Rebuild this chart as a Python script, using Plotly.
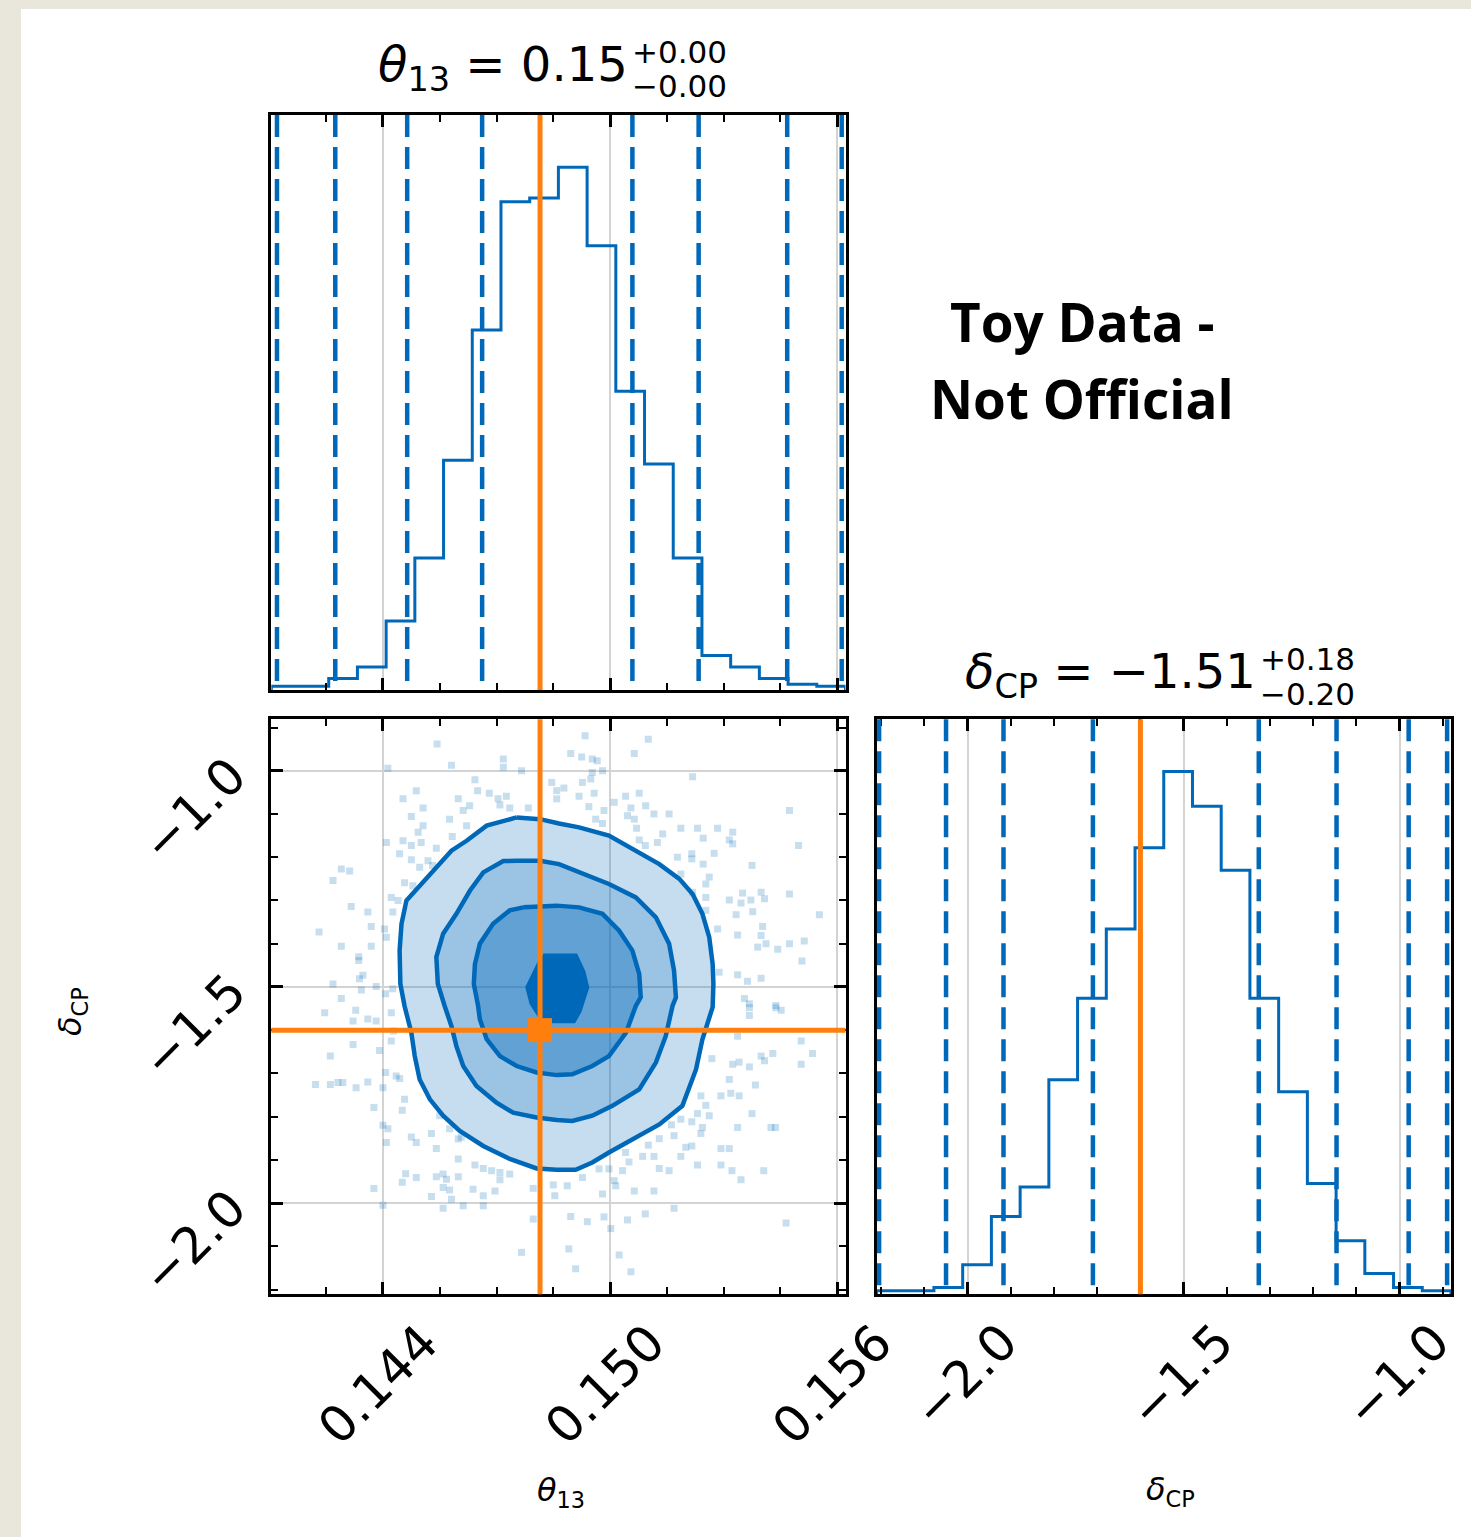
import plotly.graph_objects as go
import numpy as np

W, H = 1471, 1537
FONT = "DejaVu Sans"
BLUE = "#0068b8"
ORANGE = "#ff7f0e"

# ---------------- data ----------------
theta_range = [0.14105, 0.15622]
dcp_range = [-2.211, -0.881]

# 20-bin step histograms (counts)
theta_counts = [2, 2, 6, 12, 36, 69, 120, 188, 255, 257, 273, 232, 156, 118, 69, 18, 12, 6, 3, 2]
dcp_counts = [2, 2, 4, 17, 45, 62, 124, 171, 211, 258, 302, 282, 245, 171, 117, 64, 31, 12, 4, 2]

# dashed quantile lines
theta_quantiles = [0.14120, 0.14274, 0.14464, 0.14662, 0.15059, 0.15234, 0.15468, 0.15612]
dcp_quantiles = [-2.205, -2.050, -1.917, -1.710, -1.326, -1.146, -0.979, -0.890]

theta_truth = 0.14815
dcp_truth = -1.600

# tick settings
theta_tick0, theta_major, theta_minor = 0.144, 0.006, 0.0015
dcp_tick0, dcp_major, dcp_minor = -2.0, 0.5, 0.1

# contour levels (outer -> inner)
c1_theta = [0.14753, 0.14815, 0.14865, 0.14918, 0.14997, 0.15068, 0.15130, 0.15183, 0.15218, 0.15244,
            0.15262, 0.15271, 0.15273, 0.15271, 0.15244, 0.15227, 0.15191, 0.15130, 0.15042, 0.14997,
            0.14953, 0.14909, 0.14859, 0.14806, 0.14735, 0.14665, 0.14603, 0.14559, 0.14524, 0.14497,
            0.14484, 0.14475, 0.14457, 0.14446, 0.14444, 0.14449, 0.14462, 0.14502, 0.14541, 0.14581,
            0.14621, 0.14674]
c1_dcp = [-1.108, -1.112, -1.122, -1.131, -1.150, -1.185, -1.216, -1.250, -1.285, -1.331,
          -1.385, -1.447, -1.493, -1.547, -1.621, -1.691, -1.775, -1.818, -1.860, -1.883,
          -1.906, -1.923, -1.923, -1.920, -1.898, -1.868, -1.833, -1.798, -1.760, -1.714,
          -1.660, -1.606, -1.544, -1.493, -1.416, -1.354, -1.300, -1.262, -1.223, -1.185,
          -1.162, -1.127]
c2_theta = [0.14753, 0.14815, 0.14865, 0.14953, 0.14997, 0.15068, 0.15121, 0.15156, 0.15169, 0.15174,
            0.15165, 0.15147, 0.15121, 0.15077, 0.15006, 0.14953, 0.14900, 0.14859, 0.14806, 0.14744,
            0.14700, 0.14647, 0.14612, 0.14594, 0.14581, 0.14563, 0.14545, 0.14541, 0.14559, 0.14594,
            0.14630, 0.14665, 0.14718]
c2_dcp = [-1.208, -1.208, -1.216, -1.246, -1.262, -1.293, -1.339, -1.400, -1.462, -1.524,
          -1.544, -1.614, -1.675, -1.737, -1.775, -1.798, -1.810, -1.808, -1.802, -1.791,
          -1.768, -1.729, -1.683, -1.637, -1.591, -1.544, -1.493, -1.431, -1.377, -1.331,
          -1.277, -1.235, -1.209]
c3_theta = [0.14771, 0.14859, 0.14918, 0.14980, 0.15024, 0.15059, 0.15077, 0.15081, 0.15068, 0.15042,
            0.14997, 0.14953, 0.14900, 0.14859, 0.14806, 0.14753, 0.14709, 0.14674, 0.14656, 0.14651,
            0.14640, 0.14643, 0.14656, 0.14691, 0.14735]
c3_dcp = [-1.316, -1.312, -1.316, -1.331, -1.370, -1.416, -1.470, -1.524, -1.544, -1.606,
          -1.660, -1.683, -1.702, -1.704, -1.698, -1.683, -1.660, -1.621, -1.575, -1.542,
          -1.493, -1.447, -1.400, -1.354, -1.323]
c4_theta = [0.14823, 0.14909, 0.14929, 0.14939, 0.14919, 0.14904, 0.14823, 0.14793, 0.14782, 0.14803]
c4_dcp = [-1.428, -1.428, -1.465, -1.501, -1.556, -1.579, -1.579, -1.538, -1.501, -1.465]

# scatter samples outside the contours, by quadrant
nw_theta = [0.14543, 0.14581, 0.14718, 0.14718, 0.14766, 0.14413, 0.14643, 0.14488, 0.14453, 0.14506,
            0.14599, 0.14629, 0.14612, 0.14650, 0.14681, 0.14704, 0.14726, 0.14709, 0.14735, 0.14784,
            0.14846, 0.14859, 0.14859, 0.14475, 0.14576, 0.14621, 0.14506, 0.14493, 0.14453, 0.14409,
            0.14475, 0.14501, 0.14444, 0.14475, 0.14541, 0.14583, 0.14519, 0.14497, 0.14531, 0.14290,
            0.14312, 0.14268, 0.14457, 0.14479, 0.14422, 0.14440, 0.14426, 0.14316, 0.14360, 0.14369,
            0.14404, 0.14409, 0.14231, 0.14290, 0.14369, 0.14336, 0.14336, 0.14347, 0.14338, 0.14268,
            0.14382, 0.14343, 0.14290, 0.14407, 0.14426]
nw_dcp = [-0.938, -0.987, -0.973, -0.992, -1.000, -0.994, -1.021, -1.046, -1.065, -1.086,
          -1.065, -1.081, -1.092, -1.046, -1.052, -1.065, -1.059, -1.079, -1.086, -1.086,
          -1.027, -1.046, -1.065, -1.106, -1.112, -1.127, -1.127, -1.142, -1.162, -1.166,
          -1.173, -1.166, -1.192, -1.206, -1.179, -1.152, -1.208, -1.223, -1.219, -1.227,
          -1.232, -1.254, -1.259, -1.266, -1.293, -1.300, -1.327, -1.314, -1.327, -1.360,
          -1.366, -1.385, -1.373, -1.406, -1.406, -1.430, -1.439, -1.473, -1.481, -1.493,
          -1.499, -1.507, -1.527, -1.516, -1.504]
ne_theta = [0.14934, 0.15101, 0.14896, 0.14925, 0.14953, 0.14966, 0.15064, 0.14980, 0.14953, 0.14949,
            0.14927, 0.14878, 0.14918, 0.14958, 0.15011, 0.15041, 0.15077, 0.15094, 0.15055, 0.15116,
            0.15156, 0.14944, 0.14984, 0.15046, 0.15064, 0.15070, 0.14962, 0.14980, 0.15218, 0.15474,
            0.15139, 0.15125, 0.15077, 0.15093, 0.15187, 0.15231, 0.15246, 0.15284, 0.15324, 0.15315,
            0.15324, 0.15498, 0.15178, 0.15216, 0.15216, 0.15246, 0.15275, 0.15187, 0.15262, 0.15253,
            0.15218, 0.15253, 0.15253, 0.15315, 0.15350, 0.15346, 0.15372, 0.15399, 0.15408, 0.15474,
            0.15375, 0.15333, 0.15377, 0.15553, 0.15284, 0.15337, 0.15403, 0.15399, 0.15412, 0.15390,
            0.15443, 0.15474, 0.15513, 0.15507, 0.15288, 0.15337, 0.15363, 0.15399, 0.15355, 0.15368,
            0.15438]
ne_dcp = [-0.919, -0.927, -0.960, -0.968, -0.973, -0.977, -0.960, -1.000, -1.004, -1.019,
          -1.027, -1.040, -1.059, -1.052, -1.073, -1.059, -1.052, -1.081, -1.086, -1.100,
          -1.100, -1.083, -1.092, -1.104, -1.112, -1.133, -1.112, -1.122, -1.014, -1.092,
          -1.146, -1.166, -1.160, -1.173, -1.133, -1.133, -1.156, -1.133, -1.142, -1.160,
          -1.169, -1.173, -1.200, -1.192, -1.204, -1.216, -1.191, -1.239, -1.246, -1.262,
          -1.281, -1.293, -1.323, -1.299, -1.283, -1.306, -1.299, -1.281, -1.296, -1.285,
          -1.219, -1.333, -1.326, -1.333, -1.366, -1.380, -1.360, -1.381, -1.400, -1.408,
          -1.413, -1.400, -1.394, -1.440, -1.466, -1.472, -1.487, -1.480, -1.527, -1.539,
          -1.543]
sw_theta = [0.14246, 0.14328, 0.14321, 0.14360, 0.14382, 0.14422, 0.14428, 0.14321, 0.14422, 0.14391,
            0.14261, 0.14222, 0.14261, 0.14281, 0.14294, 0.14329, 0.14360, 0.14400, 0.14407, 0.14435,
            0.14444, 0.14457, 0.14451, 0.14376, 0.14400, 0.14413, 0.14475, 0.14488, 0.14409, 0.14528,
            0.14541, 0.14576, 0.14599, 0.14607, 0.14550, 0.14599, 0.14643, 0.14665, 0.14687, 0.14709,
            0.14735, 0.14709, 0.14460, 0.14488, 0.14451, 0.14541, 0.14559, 0.14568, 0.14559, 0.14576,
            0.14599, 0.14638, 0.14665, 0.14696, 0.14528, 0.14581, 0.14612, 0.14559, 0.14665, 0.14376,
            0.14400, 0.14797, 0.14850, 0.14854, 0.14797, 0.14766]
sw_dcp = [-1.560, -1.554, -1.579, -1.574, -1.579, -1.560, -1.602, -1.633, -1.625, -1.647,
          -1.660, -1.726, -1.726, -1.721, -1.721, -1.733, -1.720, -1.733, -1.698, -1.706,
          -1.712, -1.760, -1.785, -1.779, -1.820, -1.828, -1.847, -1.860, -1.860, -1.839,
          -1.874, -1.828, -1.852, -1.848, -1.798, -1.898, -1.912, -1.920, -1.925, -1.946,
          -1.933, -1.929, -1.932, -1.941, -1.952, -1.939, -1.933, -1.945, -1.964, -1.970,
          -1.939, -1.968, -1.983, -1.972, -1.985, -1.991, -2.006, -2.012, -2.006, -1.966,
          -2.005, -1.966, -1.958, -1.983, -2.037, -2.114]
se_theta = [0.15368, 0.15438, 0.15452, 0.15368, 0.15337, 0.15269, 0.15324, 0.15341, 0.15368, 0.15399,
            0.15408, 0.15430, 0.15505, 0.15535, 0.15505, 0.15315, 0.15384, 0.15293, 0.15319, 0.15341,
            0.15240, 0.15253, 0.15262, 0.15231, 0.15216, 0.15187, 0.15162, 0.15169, 0.15244, 0.15240,
            0.15337, 0.15375, 0.15425, 0.15437, 0.15130, 0.15101, 0.15086, 0.15116, 0.15200, 0.15216,
            0.15187, 0.15293, 0.15315, 0.15231, 0.15293, 0.15156, 0.15130, 0.15322, 0.15346, 0.15406,
            0.15050, 0.15033, 0.15041, 0.14971, 0.14997, 0.15011, 0.15015, 0.14927, 0.14887, 0.14980,
            0.15064, 0.15116, 0.15169, 0.14896, 0.14940, 0.14984, 0.15002, 0.15046, 0.15093, 0.14891,
            0.15024, 0.15055, 0.14909, 0.15465]
se_dcp = [-1.548, -1.548, -1.554, -1.566, -1.614, -1.666, -1.679, -1.674, -1.685, -1.660,
          -1.671, -1.654, -1.625, -1.654, -1.679, -1.714, -1.727, -1.752, -1.746, -1.752,
          -1.752, -1.774, -1.798, -1.793, -1.812, -1.806, -1.819, -1.844, -1.825, -1.839,
          -1.825, -1.793, -1.825, -1.825, -1.851, -1.866, -1.892, -1.892, -1.871, -1.868,
          -1.892, -1.874, -1.874, -1.912, -1.912, -1.925, -1.920, -1.925, -1.946, -1.925,
          -1.905, -1.925, -1.883, -1.921, -1.921, -1.948, -1.960, -1.941, -1.960, -1.979,
          -1.972, -1.972, -2.012, -2.031, -2.043, -2.032, -2.059, -2.039, -2.025, -2.106,
          -2.120, -2.159, -2.152, -2.046]

title_theta = "<i>θ</i><sub>13</sub> = 0.15"
title_theta_up, title_theta_dn = "+0.00", "−0.00"
title_dcp = "<i>δ</i><sub>CP</sub> = −1.51"
title_dcp_up, title_dcp_dn = "+0.18", "−0.20"
label_theta = "<i>θ</i><sub>13</sub>"
label_dcp = "<i>δ</i><sub>CP</sub>"
watermark = ["Toy Data -", "Not Official"]

# ---------------- helpers ----------------
def fx(p):
    return p / W

def fy(p):
    return 1 - p / H

def step_xy(lo, hi, counts):
    edges = np.linspace(lo, hi, len(counts) + 1)
    xs = [edges[0]] + list(edges[:-1]) + [edges[-1], edges[-1]]
    ys = [0] + list(counts) + [counts[-1], 0]
    return xs, ys

fig = go.Figure()

# histograms
tx, ty = step_xy(theta_range[0], theta_range[1], theta_counts)
fig.add_trace(go.Scatter(x=tx, y=ty, mode="lines", line=dict(color=BLUE, width=3, shape="hv"),
                         xaxis="x", yaxis="y", showlegend=False, hoverinfo="skip"))
dx, dy = step_xy(dcp_range[0], dcp_range[1], dcp_counts)
fig.add_trace(go.Scatter(x=dx, y=dy, mode="lines", line=dict(color=BLUE, width=3, shape="hv"),
                         xaxis="x3", yaxis="y3", showlegend=False, hoverinfo="skip"))

# 2D scatter points
pts_theta = nw_theta + ne_theta + sw_theta + se_theta
pts_dcp = nw_dcp + ne_dcp + sw_dcp + se_dcp
fig.add_trace(go.Scatter(x=pts_theta, y=pts_dcp, mode="markers",
                         marker=dict(symbol="square", size=7, color="rgba(0,104,184,0.22)", line=dict(width=0)),
                         xaxis="x2", yaxis="y2", showlegend=False, hoverinfo="skip"))

# contours
fills = ["rgba(0,104,184,0.224)", "rgba(0,104,184,0.216)", "rgba(0,104,184,0.37)", BLUE]
for cx, cy, fc in [(c1_theta, c1_dcp, fills[0]), (c2_theta, c2_dcp, fills[1]),
                   (c3_theta, c3_dcp, fills[2]), (c4_theta, c4_dcp, fills[3])]:
    fig.add_trace(go.Scatter(x=cx + [cx[0]], y=cy + [cy[0]], mode="lines", fill="toself",
                             fillcolor=fc, line=dict(color=BLUE, width=4.5),
                             xaxis="x2", yaxis="y2", showlegend=False, hoverinfo="skip"))

# dashed quantile lines
for q in theta_quantiles:
    fig.add_shape(type="line", xref="x", yref="y domain", x0=q, x1=q, y0=1, y1=0,
                  line=dict(color=BLUE, width=4.5, dash="22px,10px"))
for q in dcp_quantiles:
    fig.add_shape(type="line", xref="x3", yref="y3 domain", x0=q, x1=q, y0=1, y1=0,
                  line=dict(color=BLUE, width=4.5, dash="22px,10px"))

# truth lines
fig.add_shape(type="line", xref="x", yref="y domain", x0=theta_truth, x1=theta_truth, y0=0, y1=1,
              line=dict(color=ORANGE, width=5))
fig.add_shape(type="line", xref="x3", yref="y3 domain", x0=dcp_truth, x1=dcp_truth, y0=0, y1=1,
              line=dict(color=ORANGE, width=5))
fig.add_shape(type="line", xref="x2", yref="y2 domain", x0=theta_truth, x1=theta_truth, y0=0, y1=1,
              line=dict(color=ORANGE, width=5))
fig.add_shape(type="line", xref="x2 domain", yref="y2", x0=0, x1=1, y0=dcp_truth, y1=dcp_truth,
              line=dict(color=ORANGE, width=5))
fig.add_trace(go.Scatter(x=[theta_truth], y=[dcp_truth], mode="markers",
                         marker=dict(symbol="square", size=24, color=ORANGE, line=dict(width=0)),
                         xaxis="x2", yaxis="y2", showlegend=False, hoverinfo="skip"))

# white page over beige frame
fig.add_shape(type="rect", xref="paper", yref="paper", x0=fx(21), x1=1.0, y0=0, y1=fy(9),
              fillcolor="white", line=dict(width=0), layer="below")

# ---------------- axes ----------------
X_MAIN = [fx(271.3), fx(845.5)]
X_RIGHT = [fx(876.5), fx(1451)]
Y_TOP = [fy(690), fy(115)]
Y_BOT = [fy(1294.3), fy(719.3)]

line_common = dict(showline=True, linewidth=3, linecolor="black", mirror="ticks", zeroline=False,
                   automargin=False)
tickfont = dict(family=FONT, size=50, color="black")

def xspec(rng, t0, dmaj, dmin):
    return dict(range=rng, tick0=t0, dtick=dmaj, ticks="inside", ticklen=12, tickwidth=2.5,
                tickcolor="black",
                minor=dict(ticks="inside", ticklen=7, tickwidth=2, tickcolor="black",
                           tick0=t0, dtick=dmin, showgrid=False),
                showgrid=True, gridcolor="#d3d3d3", gridwidth=2)

hist_y = dict(showticklabels=False, ticks="", showgrid=False, **line_common)

fig.update_layout(
    width=W, height=H, margin=dict(l=0, r=0, t=0, b=0, autoexpand=False),
    paper_bgcolor="#e9e7dc", plot_bgcolor="white", showlegend=False,
    font=dict(family=FONT, color="black"),
    xaxis=dict(domain=X_MAIN, anchor="y", showticklabels=False,
               **xspec(theta_range, theta_tick0, theta_major, theta_minor), **line_common),
    yaxis=dict(domain=Y_TOP, anchor="x", range=[0, 1.1 * max(theta_counts)], **hist_y),
    xaxis2=dict(domain=X_MAIN, anchor="y2", tickangle=-45, tickformat=".3f", tickfont=tickfont,
                ticklabelshift=40, ticklabelstandoff=-4,
                **xspec(theta_range, theta_tick0, theta_major, theta_minor), **line_common),
    yaxis2=dict(domain=Y_BOT, anchor="x2", tickangle=-45, tickformat=".1f", tickfont=tickfont,
                ticklabelstandoff=27, ticklabelshift=-2,
                **xspec(dcp_range, dcp_tick0, dcp_major, dcp_minor), **line_common),
    xaxis3=dict(domain=X_RIGHT, anchor="y3", tickangle=-45, tickformat=".1f", tickfont=tickfont,
                ticklabelshift=35, ticklabelstandoff=-5,
                **xspec(dcp_range, dcp_tick0, dcp_major, dcp_minor), **line_common),
    yaxis3=dict(domain=Y_BOT, anchor="x3", range=[0, 1.1 * max(dcp_counts)], **hist_y),
)

# ---------------- text ----------------
def ann(text, x, y, size, xanchor="center", yanchor="middle", angle=0, family=FONT, bold=False):
    fig.add_annotation(text=("<b>%s</b>" % text) if bold else text, x=fx(x), y=fy(y),
                       xref="paper", yref="paper", showarrow=False, xanchor=xanchor,
                       yanchor=yanchor, textangle=angle,
                       font=dict(family=family, size=size, color="black"))

ann(title_theta, 630, 68, 48, xanchor="right")
ann(title_theta_up, 630, 52, 31, xanchor="left")
ann(title_theta_dn, 630, 86, 31, xanchor="left")
ann(title_dcp, 1258, 674, 48, xanchor="right")
ann(title_dcp_up, 1258, 659, 31, xanchor="left")
ann(title_dcp_dn, 1258, 694, 31, xanchor="left")
ann(label_theta, 561, 1492, 32)
ann(label_dcp, 1170, 1491, 32)
ann(label_dcp, 72, 1012, 32, angle=-90)
ann(watermark[0], 1082, 321, 53, family="Open Sans", bold=True)
ann(watermark[1], 1082, 398, 53, family="Open Sans", bold=True)

fig.write_html("out.html")
